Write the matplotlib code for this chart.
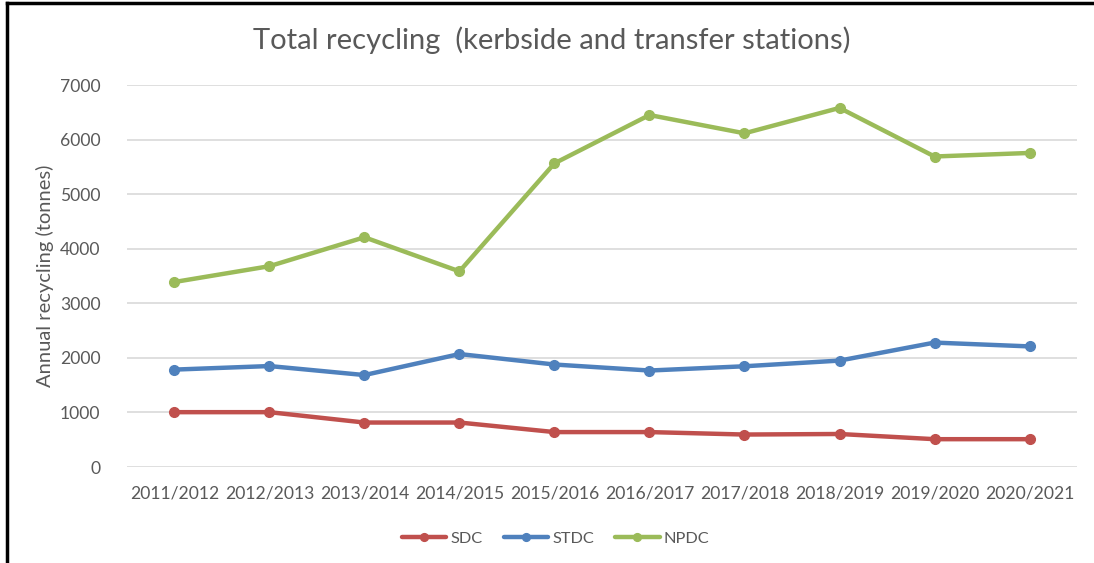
import matplotlib
matplotlib.use('Agg')
import matplotlib.pyplot as plt
from matplotlib.lines import Line2D

plt.rcParams['font.family'] = ['Lato', 'DejaVu Sans']

years = ['2011/2012', '2012/2013', '2013/2014', '2014/2015', '2015/2016',
         '2016/2017', '2017/2018', '2018/2019', '2019/2020', '2020/2021']
sdc = [1005, 1005, 815, 815, 640, 640, 595, 605, 510, 510]
stdc = [1785, 1850, 1685, 2070, 1878, 1768, 1846, 1950, 2280, 2210]
npdc = [3390, 3680, 4210, 3585, 5565, 6450, 6115, 6580, 5690, 5755]

TEXT = '#595959'
fig = plt.figure(figsize=(10.94, 5.63), dpi=100)
ax = fig.add_axes([0.116, 0.1705, 0.8685, 0.6785])

x = list(range(len(years)))
series = [('SDC', sdc, '#C0504D'), ('STDC', stdc, '#4F81BD'), ('NPDC', npdc, '#9BBB59')]
for name, vals, col in series:
    ax.plot(x, vals, color=col, lw=3.2, marker='o', ms=7, label=name,
            solid_capstyle='round')

ax.set_xlim(-0.5, len(years) - 0.5)
ax.set_ylim(0, 7000)
ax.set_yticks(range(0, 7001, 1000))
ax.set_xticks(x)
ax.set_xticklabels(years)
ax.tick_params(length=0, labelsize=12.6, colors=TEXT)
ax.tick_params(axis='x', pad=13)
ax.tick_params(axis='y', pad=19)
ax.yaxis.grid(True, color='#D9D9D9', lw=1.2)
ax.set_axisbelow(True)
for s in ax.spines.values():
    s.set_visible(False)

ax.set_ylabel('Annual recycling (tonnes)', fontsize=14.5, color=TEXT, labelpad=4)
fig.text(0.504, 0.928, 'Total recycling  (kerbside and transfer stations)',
         ha='center', va='center', fontsize=21, color=TEXT)

fig.legend(loc='center', bbox_to_anchor=(0.508, 0.043), ncol=3, frameon=False,
           fontsize=11.8, labelcolor=TEXT, handlelength=2.7, handletextpad=0.25,
           columnspacing=1.3, markerscale=0.8)

# screenshot frame (top and left edges)
fig.add_artist(Line2D([0.0065, 0.0065], [0, 0.995], transform=fig.transFigure,
                      color='black', lw=2.5))
fig.add_artist(Line2D([0.0065, 1.0], [0.995, 0.995], transform=fig.transFigure,
                      color='black', lw=2.5))

fig.savefig('out.png', dpi=100)
